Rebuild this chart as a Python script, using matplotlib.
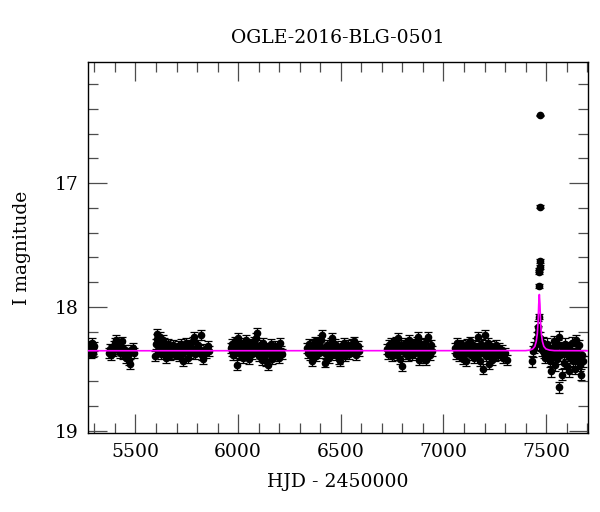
import matplotlib
matplotlib.use("Agg")
import matplotlib.pyplot as plt
from matplotlib.ticker import MultipleLocator

plt.rcParams['font.family'] = ['DejaVu Serif']

# ---- data (HJD - 2450000, I mag) ----
s1_t = [5282, 5284, 5286, 5288, 5290, 5292, 5294, 5296]
s1_m = [18.36, 18.31, 18.38, 18.33, 18.29, 18.35, 18.37, 18.32]

s2_t = [5372, 5376, 5381, 5386, 5390, 5396, 5401, 5406, 5410, 5414, 5419, 5424,
        5430, 5436, 5441, 5447, 5452, 5458, 5463, 5468, 5473, 5480, 5486, 5492]
s2_m = [18.37, 18.34, 18.39, 18.35, 18.36, 18.32, 18.29, 18.27, 18.31, 18.34, 18.30, 18.37,
        18.33, 18.28, 18.38, 18.35, 18.41, 18.37, 18.39, 18.43, 18.46, 18.35, 18.33, 18.37]

s3_t = [5596, 5600, 5603, 5607, 5610, 5614, 5618, 5621, 5625, 5628, 5632, 5636, 5640,
        5644, 5648, 5652, 5657, 5661, 5666, 5670, 5675, 5680, 5685, 5690, 5695, 5700,
        5706, 5711, 5716, 5722, 5727, 5733, 5738, 5744, 5750, 5755, 5761, 5767, 5772,
        5778, 5783, 5789, 5795, 5801, 5807, 5813, 5819, 5825, 5831, 5838, 5845, 5852, 5860]
s3_m = [18.40, 18.30, 18.26, 18.22, 18.35, 18.28, 18.24, 18.33, 18.38, 18.31, 18.27, 18.36, 18.29,
        18.34, 18.41, 18.32, 18.37, 18.30, 18.35, 18.39, 18.33, 18.36, 18.31, 18.38, 18.34, 18.37,
        18.32, 18.40, 18.35, 18.30, 18.38, 18.44, 18.33, 18.29, 18.36, 18.41, 18.31, 18.37, 18.34,
        18.28, 18.24, 18.38, 18.33, 18.36, 18.31, 18.35, 18.23, 18.39, 18.42, 18.34, 18.37, 18.32, 18.36]

s4_t = [5964, 5968, 5972, 5976, 5980, 5985, 5989, 5994, 5998, 6003, 6008, 6013, 6018,
        6023, 6028, 6033, 6038, 6043, 6048, 6053, 6058, 6063, 6068, 6073, 6078, 6083,
        6088, 6093, 6098, 6103, 6108, 6113, 6118, 6123, 6128, 6133, 6138, 6143, 6148,
        6153, 6158, 6163, 6168, 6174, 6180, 6186, 6192, 6198, 6204, 6210, 6216]
s4_m = [18.33, 18.36, 18.30, 18.39, 18.34, 18.28, 18.37, 18.47, 18.25, 18.32, 18.38, 18.29, 18.35,
        18.41, 18.31, 18.36, 18.27, 18.39, 18.33, 18.42, 18.30, 18.35, 18.38, 18.32, 18.28, 18.36,
        18.25, 18.21, 18.34, 18.40, 18.31, 18.37, 18.43, 18.29, 18.35, 18.39, 18.44, 18.33, 18.47,
        18.38, 18.30, 18.42, 18.35, 18.40, 18.32, 18.37, 18.34, 18.41, 18.29, 18.36, 18.38]

s5_t = [6336, 6341, 6346, 6351, 6356, 6361, 6366, 6371, 6376, 6381, 6386, 6391, 6396,
        6401, 6406, 6411, 6416, 6421, 6426, 6431, 6436, 6441, 6446, 6451, 6456, 6461,
        6467, 6473, 6479, 6485, 6491, 6497, 6503, 6509, 6515, 6521, 6527, 6533, 6539,
        6545, 6551, 6557, 6563, 6569, 6575, 6582, 6588]
s5_m = [18.33, 18.37, 18.30, 18.39, 18.35, 18.44, 18.31, 18.36, 18.28, 18.40, 18.34, 18.29, 18.37,
        18.32, 18.27, 18.23, 18.35, 18.45, 18.38, 18.31, 18.36, 18.41, 18.33, 18.29, 18.25, 18.37,
        18.34, 18.30, 18.39, 18.35, 18.42, 18.44, 18.32, 18.37, 18.29, 18.40, 18.34, 18.31, 18.38,
        18.36, 18.33, 18.30, 18.28, 18.35, 18.39, 18.32, 18.36]

s6_t = [6726, 6730, 6735, 6739, 6744, 6748, 6753, 6757, 6762, 6766, 6771, 6775, 6780,
        6784, 6789, 6793, 6798, 6802, 6807, 6811, 6816, 6820, 6825, 6829, 6834, 6838,
        6843, 6847, 6852, 6856, 6861, 6865, 6870, 6874, 6879, 6883, 6888, 6892, 6897,
        6901, 6906, 6910, 6915, 6919, 6924, 6928, 6933, 6938, 6943]
s6_m = [18.34, 18.38, 18.31, 18.36, 18.29, 18.40, 18.33, 18.37, 18.30, 18.35, 18.28, 18.39, 18.25,
        18.34, 18.42, 18.31, 18.48, 18.36, 18.33, 18.29, 18.38, 18.35, 18.31, 18.40, 18.27, 18.36,
        18.33, 18.39, 18.30, 18.35, 18.37, 18.32, 18.28, 18.24, 18.43, 18.34, 18.38, 18.30, 18.36,
        18.41, 18.33, 18.29, 18.43, 18.37, 18.24, 18.34, 18.39, 18.31, 18.36]

s7_t = [7056, 7061, 7066, 7071, 7076, 7081, 7086, 7091, 7096, 7101, 7106, 7111, 7116,
        7121, 7126, 7131, 7136, 7141, 7146, 7151, 7156, 7161, 7166, 7171, 7176, 7181,
        7186, 7191, 7196, 7201, 7206, 7211, 7216, 7221, 7226, 7231, 7236, 7241, 7246,
        7251, 7256, 7261, 7266, 7272, 7278, 7285, 7292, 7300, 7310]
s7_m = [18.33, 18.38, 18.29, 18.35, 18.40, 18.32, 18.36, 18.31, 18.42, 18.34, 18.38, 18.44, 18.30,
        18.36, 18.33, 18.28, 18.39, 18.35, 18.31, 18.41, 18.37, 18.33, 18.24, 18.38, 18.44, 18.30,
        18.36, 18.50, 18.33, 18.23, 18.40, 18.35, 18.29, 18.46, 18.37, 18.32, 18.43, 18.38, 18.34,
        18.40, 18.31, 18.36, 18.39, 18.33, 18.37, 18.35, 18.41, 18.37, 18.43]

s8_t = [7430, 7435, 7440, 7452, 7456, 7459, 7461, 7472, 7476, 7480, 7484, 7488, 7492,
        7497, 7502, 7507, 7512, 7517, 7522, 7527, 7532, 7537, 7542, 7547, 7552, 7557,
        7562, 7565, 7570, 7575, 7580, 7585, 7590, 7595, 7600, 7605, 7610, 7615, 7620,
        7625, 7630, 7635, 7640, 7645, 7650, 7655, 7660, 7665, 7670, 7675, 7679]
s8_m = [18.44, 18.36, 18.33, 18.30, 18.25, 18.20, 18.16, 18.25, 18.31, 18.35, 18.29, 18.37, 18.33,
        18.41, 18.30, 18.38, 18.35, 18.44, 18.52, 18.33, 18.40, 18.28, 18.47, 18.36, 18.42, 18.31,
        18.24, 18.65, 18.39, 18.55, 18.34, 18.45, 18.30, 18.38, 18.48, 18.33, 18.52, 18.41, 18.36,
        18.29, 18.44, 18.38, 18.50, 18.27, 18.35, 18.42, 18.31, 18.47, 18.55, 18.39, 18.44]

season_err = [0.035, 0.04, 0.04, 0.04, 0.04, 0.04, 0.04, 0.045]

peak_t = [7463, 7466, 7467, 7467.5, 7468, 7468.5, 7469, 7470]
peak_m = [18.08, 17.83, 17.72, 17.70, 17.68, 17.63, 17.19, 16.45]
peak_err = [0.02, 0.015, 0.015, 0.015, 0.015, 0.015, 0.01, 0.005]

# model curve
model_t = [5260, 7400, 7420, 7435, 7445, 7452, 7457, 7461, 7464, 7467, 7470, 7473,
           7477, 7482, 7489, 7499, 7517, 7540, 7710]
model_m = [18.355, 18.354, 18.35, 18.34, 18.32, 18.28, 18.22, 18.12, 17.98, 17.90, 17.98, 18.12,
           18.22, 18.28, 18.32, 18.34, 18.35, 18.354, 18.355]

title = "OGLE-2016-BLG-0501"
xlabel = "HJD - 2450000"
ylabel = "I magnitude"

# ---- figure ----
fig = plt.figure(figsize=(6.0, 5.12), dpi=100)
ax = fig.add_axes([88/600, 1 - 433/512, 500/600, (433 - 62)/512])

seasons = [(s1_t, s1_m), (s2_t, s2_m), (s3_t, s3_m), (s4_t, s4_m),
           (s5_t, s5_m), (s6_t, s6_m), (s7_t, s7_m), (s8_t, s8_m)]
for (t, m), e in zip(seasons, season_err):
    ax.errorbar(t, m, yerr=e, fmt='o', ms=4.5, color='k', ecolor='k',
                elinewidth=0.9, capsize=3, capthick=0.9, zorder=2)
ax.errorbar(peak_t, peak_m, yerr=peak_err, fmt='o', ms=4.5, color='k', ecolor='k',
            elinewidth=0.9, capsize=3, capthick=0.9, zorder=2)

ax.plot(model_t, model_m, color='#ff00ff', lw=1.2, zorder=3)

ax.set_xlim(5269, 7704)
ax.set_ylim(19.02, 16.02)

ax.xaxis.set_major_locator(MultipleLocator(500))
ax.xaxis.set_minor_locator(MultipleLocator(100))
ax.yaxis.set_major_locator(MultipleLocator(1))
ax.yaxis.set_minor_locator(MultipleLocator(0.2))
ax.tick_params(which='both', direction='in', top=True, right=True, color='0.3',
               labelsize=13.5)
ax.tick_params(which='major', length=14, width=0.9, pad=7)
ax.tick_params(which='minor', length=7, width=0.9)
for sp in ax.spines.values():
    sp.set_linewidth(1.0)

ax.set_title(title, fontsize=13.5, pad=14)
ax.set_xlabel(xlabel, fontsize=13.5, labelpad=9)
ax.set_ylabel(ylabel, fontsize=13.5, labelpad=17)

fig.savefig("out.png", dpi=100)
